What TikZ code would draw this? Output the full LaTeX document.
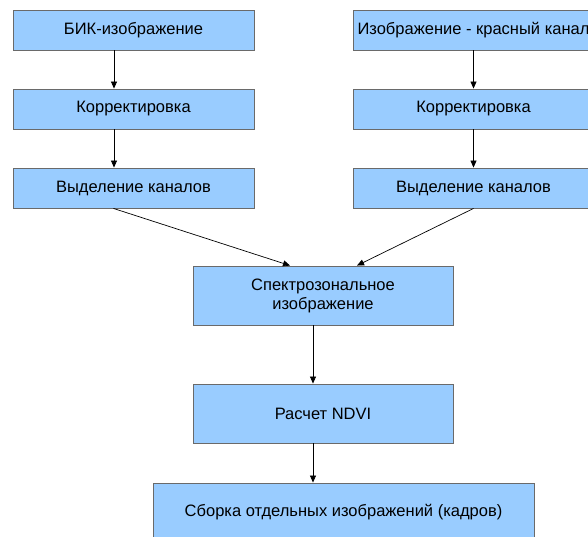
\documentclass[tikz,border=0pt]{standalone}
\usepackage{fontspec}
\setmainfont{Liberation Sans}
\usetikzlibrary{arrows.meta,calc}
\definecolor{boxfill}{HTML}{99CCFF}
\definecolor{boxline}{HTML}{6A6A6A}
\begin{document}
\begin{tikzpicture}[x=1pt,y=-1pt,
  blk/.style={draw=boxline,fill=boxfill,line width=0.9pt,inner sep=0pt,font=\fontsize{16.5}{19}\selectfont,align=center},
  arr/.style={draw=black,line width=0.7pt,-{Triangle[length=7pt,width=6pt]}}]
\useasboundingbox (0,0) rectangle (588,537);
\clip (0,0) rectangle (588,537);
% left column
\node[blk,minimum width=241pt,minimum height=40pt] (l1) at (133.5,30) {БИК-изображение};
\node[blk,minimum width=241pt,minimum height=40pt] (l2) at (133.5,109) {Корректировка};
\node[blk,minimum width=241pt,minimum height=40pt] (l3) at (133.5,188) {Выделение каналов};
% right column
\node[blk,minimum width=241pt,minimum height=40pt] (r1) at (473.5,30) {Изображение - красный канал};
\node[blk,minimum width=241pt,minimum height=40pt] (r2) at (473.5,109) {Корректировка};
\node[blk,minimum width=241pt,minimum height=40pt] (r3) at (473.5,188) {Выделение каналов};
% middle
\node[blk,minimum width=260pt,minimum height=59pt] (sp) at (323,295.5) {Спектрозональное\\изображение};
\node[blk,minimum width=260pt,minimum height=59pt] (nd) at (323,413.5) {Расчет NDVI};
\node[blk,minimum width=381pt,minimum height=58pt] (sb) at (343.5,512) {Сборка отдельных изображений (кадров)};
% arrows
\draw[arr] ([xshift=-19.5pt]l1.south) -- ([xshift=-19.5pt]l2.north);
\draw[arr] ([xshift=-19.5pt]l2.south) -- ([xshift=-19.5pt]l3.north);
\draw[arr] (r1.south) -- (r2.north);
\draw[arr] (r2.south) -- (r3.north);
\draw[arr] ([xshift=-20pt]l3.south) -- ([xshift=-33pt]sp.north);
\draw[arr] (r3.south) -- ([xshift=34pt]sp.north);
\draw[arr] ([xshift=-10pt]sp.south) -- ([xshift=-10pt]nd.north);
\draw[arr] ([xshift=-10pt]nd.south) -- ([xshift=-30.5pt]sb.north);
\end{tikzpicture}
\end{document}
